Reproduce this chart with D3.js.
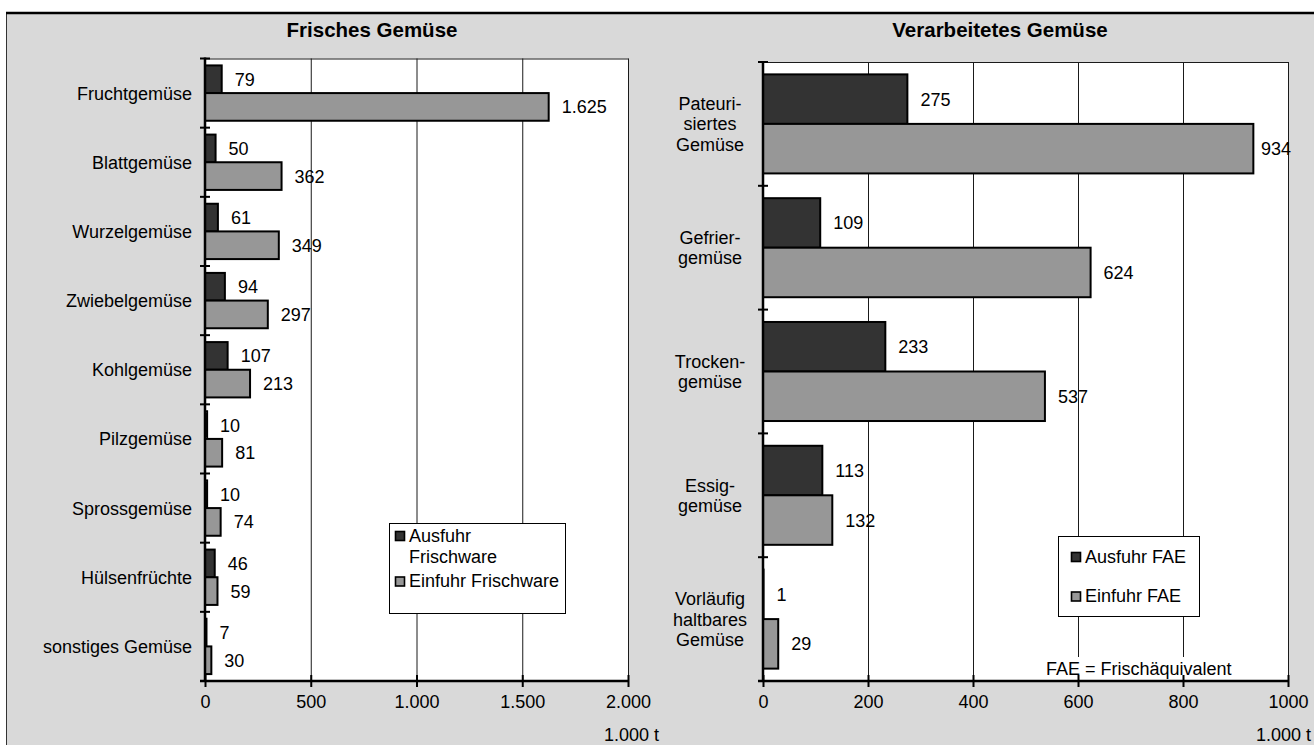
<!DOCTYPE html>
<html lang="de">
<head>
<meta charset="utf-8">
<title>Außenhandel mit Gemüse</title>
<script src="https://cdn.jsdelivr.net/npm/d3@7"></script>
<style>
  html, body { margin: 0; padding: 0; background: #fff; }
  svg { display: block; font-family: "Liberation Sans", Arial, sans-serif; }
</style>
</head>
<body>
<svg id="chart" width="1314" height="745"></svg>
<script>
// Frisches Gemüse (1.000 t)
const freshCategories = ["Fruchtgemüse", "Blattgemüse", "Wurzelgemüse", "Zwiebelgemüse", "Kohlgemüse",
  "Pilzgemüse", "Sprossgemüse", "Hülsenfrüchte", "sonstiges Gemüse"];
const freshExport = [79, 50, 61, 94, 107, 10, 10, 46, 7];
const freshImport = [1625, 362, 349, 297, 213, 81, 74, 59, 30];
const freshTicks = [0, 500, 1000, 1500, 2000];

// Verarbeitetes Gemüse (1.000 t Frischäquivalent)
const processedCategories = ["Pateuri-\nsiertes\nGemüse", "Gefrier-\ngemüse", "Trocken-\ngemüse",
  "Essig-\ngemüse", "Vorläufig\nhaltbares\nGemüse"];
const processedExport = [275, 109, 233, 113, 1];
const processedImport = [934, 624, 537, 132, 29];
const processedTicks = [0, 200, 400, 600, 800, 1000];

const freshLegend = [["Ausfuhr", "Frischware"], ["Einfuhr Frischware"]];
const processedLegend = [["Ausfuhr FAE"], ["Einfuhr FAE"]];

const COL_EXPORT = "#333333";
const COL_IMPORT = "#979797";
const FS = 18;

const de = d3.formatLocale({ decimal: ",", thousands: ".", grouping: [3], currency: ["", " €"] });
const fmtGrouped = de.format(",d");
const fmtPlain = d3.format("d");

const svg = d3.select("#chart");

// panel background and frame
svg.append("rect").attr("x", 6.5).attr("y", 13).attr("width", 1320).attr("height", 740)
  .attr("fill", "#d9d9d9").attr("stroke", "#333").attr("stroke-width", 1);
svg.append("line").attr("x1", 6).attr("x2", 1314).attr("y1", 13).attr("y2", 13)
  .attr("stroke", "#000").attr("stroke-width", 2.5);

function drawPanel(cfg) {
  const g = svg.append("g");
  const x = d3.scaleLinear().domain(cfg.domain).range([cfg.x0, cfg.x1]);
  const y = d3.scaleBand().domain(cfg.categories.map((d, i) => i)).range([cfg.y0, cfg.y1]);
  const inner = d3.scaleBand().domain(["export", "import"]).range([0, y.bandwidth()])
    .paddingInner(0).paddingOuter(0.25);

  // plot area
  g.append("rect").attr("x", cfg.x0).attr("y", cfg.y0)
    .attr("width", cfg.x1 - cfg.x0).attr("height", cfg.y1 - cfg.y0)
    .attr("fill", "#fff");

  // vertical gridlines
  g.append("g").selectAll("line").data(cfg.ticks.slice(1))
    .join("line")
    .attr("x1", d => x(d) + 0.5).attr("x2", d => x(d) + 0.5)
    .attr("y1", cfg.y0).attr("y2", cfg.y1)
    .attr("stroke", "#1a1a1a").attr("stroke-width", 1);
  // top border
  g.append("line").attr("x1", cfg.x0).attr("x2", cfg.x1 + 0.5)
    .attr("y1", cfg.y0 + 0.5).attr("y2", cfg.y0 + 0.5)
    .attr("stroke", "#1a1a1a").attr("stroke-width", 1);

  // legend / note boxes drawn before bars so they mask the gridlines
  cfg.decor(g);

  const rows = cfg.categories.map((c, i) => ({
    i, exp: cfg.exportVals[i], imp: cfg.importVals[i]
  }));

  const bars = [];
  rows.forEach(r => {
    bars.push({ i: r.i, key: "export", v: r.exp });
    bars.push({ i: r.i, key: "import", v: r.imp });
  });

  g.append("g").selectAll("rect").data(bars).join("rect")
    .attr("x", x(0))
    .attr("y", d => y(d.i) + inner(d.key))
    .attr("width", d => x(d.v) - x(0))
    .attr("height", inner.bandwidth())
    .attr("fill", d => d.key === "export" ? COL_EXPORT : COL_IMPORT)
    .attr("stroke", "#000").attr("stroke-width", 2);

  // value labels
  const labels = g.append("g").selectAll("text").data(bars).join("text")
    .attr("font-size", FS).attr("fill", "#000")
    .attr("y", d => y(d.i) + inner(d.key) + inner.bandwidth() / 2 + 6.5)
    .text(d => cfg.valueFormat(d.v));
  labels.each(function (d) {
    const w = this.getComputedTextLength();
    const pos = Math.min(x(d.v) + 13, cfg.x1 + 3 - w);
    d3.select(this).attr("x", pos);
  });

  // y axis with crossing ticks at category boundaries
  const yAxis = g.append("g");
  yAxis.append("line").attr("x1", cfg.x0).attr("x2", cfg.x0)
    .attr("y1", cfg.y0 - 1).attr("y2", cfg.y1)
    .attr("stroke", "#000").attr("stroke-width", 2.5);
  const bounds = cfg.categories.map((c, i) => y(i)).concat([cfg.y1]);
  yAxis.selectAll("line.tick").data(bounds).join("line").attr("class", "tick")
    .attr("x1", cfg.x0 - 5).attr("x2", cfg.x0 + 5)
    .attr("y1", d => d).attr("y2", d => d)
    .attr("stroke", "#000").attr("stroke-width", 2);

  // category labels
  cfg.categories.forEach((c, i) => {
    const lines = c.split("\n");
    const cy = y(i) + y.bandwidth() / 2;
    const t = g.append("text").attr("font-size", FS).attr("fill", "#000")
      .attr("text-anchor", cfg.labelAnchor);
    lines.forEach((ln, k) => {
      t.append("tspan").attr("x", cfg.labelX)
        .attr("y", cy + 6.5 + (k - (lines.length - 1) / 2) * 20.5)
        .text(ln);
    });
  });

  // x axis
  const xAxis = d3.axisBottom(x).tickValues(cfg.ticks).tickSize(6).tickPadding(8)
    .tickFormat(cfg.tickFormat);
  const ax = g.append("g").attr("transform", `translate(0,${cfg.y1})`).call(xAxis);
  ax.select(".domain").attr("stroke", "#000").attr("stroke-width", 2.5)
    .attr("d", `M${cfg.x0 - 5},0H${cfg.x1}`);
  ax.selectAll(".tick line").attr("y1", -6).attr("y2", 6)
    .attr("stroke", "#000").attr("stroke-width", 2);
  ax.selectAll(".tick text").attr("font-size", FS).attr("fill", "#000")
    .attr("font-family", "'Liberation Sans', Arial, sans-serif");

  // unit
  g.append("text").attr("x", cfg.unitX).attr("y", 741).attr("font-size", FS)
    .attr("text-anchor", cfg.unitAnchor).text("1.000 t");

  // title
  g.append("text").attr("x", cfg.titleX).attr("y", 37).attr("font-size", 20.5)
    .attr("font-weight", "bold").attr("text-anchor", "middle").text(cfg.title);
}

function legendBox(g, bx, by, bw, bh, items) {
  g.append("rect").attr("x", bx).attr("y", by).attr("width", bw).attr("height", bh)
    .attr("fill", "#fff").attr("stroke", "#000").attr("stroke-width", 1);
  items.forEach(it => {
    g.append("rect").attr("x", it.sx).attr("y", it.sy).attr("width", 9).attr("height", 9)
      .attr("fill", it.color).attr("stroke", "#000").attr("stroke-width", 1.6);
    it.lines.forEach((ln, k) => {
      g.append("text").attr("x", it.tx).attr("y", it.ty + k * 21.5)
        .attr("font-size", FS).attr("fill", "#000").text(ln);
    });
  });
}

drawPanel({
  title: "Frisches Gemüse", titleX: 372,
  categories: freshCategories, exportVals: freshExport, importVals: freshImport,
  ticks: freshTicks, domain: [0, 2000],
  x0: 205, x1: 628, y0: 58.5, y1: 681,
  labelX: 192, labelAnchor: "end",
  tickFormat: fmtGrouped, valueFormat: fmtGrouped,
  unitX: 659, unitAnchor: "end",
  decor: g => legendBox(g, 389.5, 523.5, 176, 90, [
    { sx: 395.5, sy: 531.5, color: COL_EXPORT, tx: 409, ty: 541.5, lines: freshLegend[0] },
    { sx: 395.5, sy: 577, color: COL_IMPORT, tx: 409, ty: 586.5, lines: freshLegend[1] }
  ])
});

drawPanel({
  title: "Verarbeitetes Gemüse", titleX: 1000,
  categories: processedCategories, exportVals: processedExport, importVals: processedImport,
  ticks: processedTicks, domain: [0, 1000],
  x0: 763, x1: 1288, y0: 62, y1: 681,
  labelX: 710, labelAnchor: "middle",
  tickFormat: fmtPlain, valueFormat: fmtPlain,
  unitX: 1311, unitAnchor: "end",
  decor: g => {
    legendBox(g, 1058.5, 536.5, 141, 80, [
      { sx: 1071.5, sy: 552.5, color: COL_EXPORT, tx: 1085, ty: 562.5, lines: processedLegend[0] },
      { sx: 1071.5, sy: 592, color: COL_IMPORT, tx: 1085, ty: 601.5, lines: processedLegend[1] }
    ]);
    g.append("rect").attr("x", 1040).attr("y", 657).attr("width", 196).attr("height", 22)
      .attr("fill", "#fff");
    g.append("text").attr("x", 1046).attr("y", 675).attr("font-size", FS).attr("fill", "#000")
      .text("FAE = Frischäquivalent");
  }
});
</script>
</body>
</html>
